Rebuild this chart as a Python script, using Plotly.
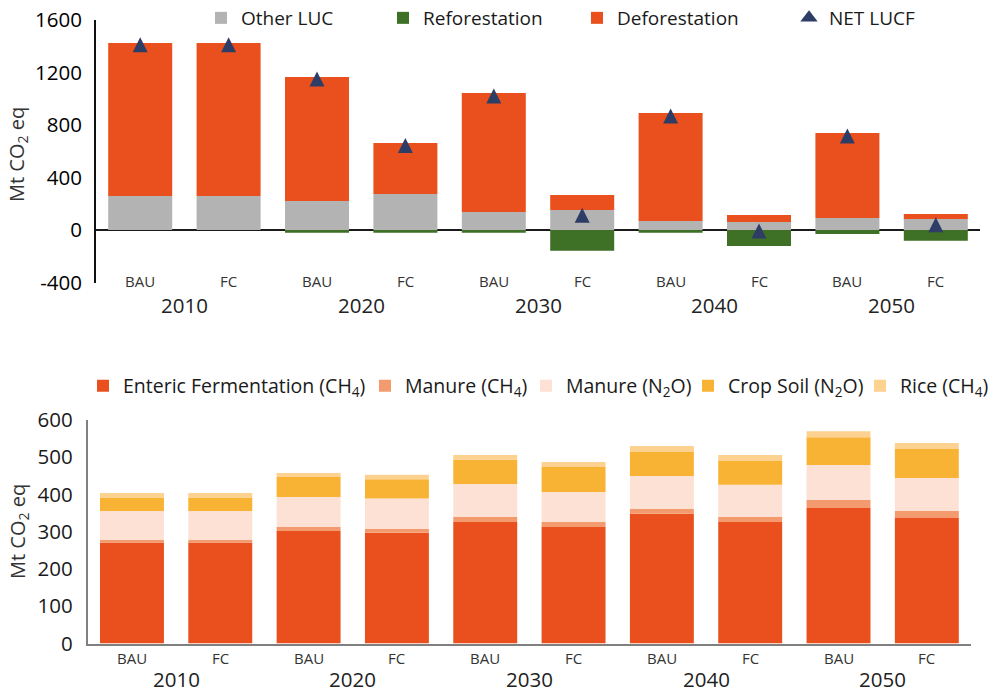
import plotly.graph_objects as go

W, H = 1001, 695

# ---------------- data ----------------
years = ["2010", "2020", "2030", "2040", "2050"]
scenarios = ["BAU", "FC", "BAU", "FC", "BAU", "FC", "BAU", "FC", "BAU", "FC"]

# Top chart: LUCF emissions (Mt CO2 eq)
other_luc = [259, 259, 221, 274, 137, 152, 69, 61, 91, 84]
reforestation = [0, 0, -20, -20, -20, -158, -20, -122, -30, -81]
deforestation = [1166, 1166, 945, 389, 907, 115, 822, 53, 648, 38]
net_lucf = [1412, 1412, 1150, 644, 1021, 112, 868, -8, 716, 40]

# Bottom chart: agriculture emissions (Mt CO2 eq)
enteric = [271, 271, 302, 297, 326, 313, 348, 326, 364, 337]
manure_ch4 = [7, 7, 11, 11, 14, 13, 13, 14, 21, 19]
manure_n2o = [78, 78, 80, 81, 88, 81, 89, 86, 94, 88]
crop_soil = [36, 36, 54, 52, 65, 67, 64, 64, 75, 78]
rice = [12, 12, 11, 12, 13, 13, 16, 16, 16, 16]

top_ticks = [-400, 0, 400, 800, 1200, 1600]
bottom_ticks = [0, 100, 200, 300, 400, 500, 600]

# ---------------- styling ----------------
FONT = "Open Sans"
C_DEF = "#E9501E"
C_OTHER = "#B3B3B3"
C_REF = "#3E7126"
C_NET = "#2E3D66"
C_ENT = "#E9501E"
C_MCH4 = "#F39B6E"
C_MN2O = "#FDE1D4"
C_CROP = "#F8B234"
C_RICE = "#FDD18F"

idx = list(range(len(scenarios)))


def px_x(p):
    return p / W


def px_y(p):
    return 1 - p / H


fig = go.Figure()

# top traces
top_series = [
    ("Other LUC", other_luc, C_OTHER, "legend"),
    ("Reforestation", reforestation, C_REF, "legend2"),
    ("Deforestation", deforestation, C_DEF, "legend3"),
]
for name, vals, col, lg in top_series:
    fig.add_trace(go.Bar(x=idx, y=vals, name=name, marker=dict(color=col, line=dict(width=0)),
                         xaxis="x", yaxis="y", legend=lg))
# centred, equilateral-ish triangles for NET LUCF
fig.add_trace(go.Scatter(x=idx, y=net_lucf, name="NET LUCF", mode="markers",
                         marker=dict(symbol="arrow-down", angle=180, standoff=7.5, size=15, color=C_NET,
                                     line=dict(width=0)),
                         xaxis="x", yaxis="y", showlegend=False))
# legend entry for NET LUCF
fig.add_trace(go.Scatter(x=[None], y=[None], name="NET LUCF", mode="markers",
                         marker=dict(symbol="triangle-up", size=15, color=C_NET, line=dict(width=0)),
                         xaxis="x", yaxis="y", legend="legend4"))

# bottom traces
bottom_series = [
    ("Enteric Fermentation (CH<sub>4</sub>)", enteric, C_ENT, "legend5"),
    ("Manure (CH<sub>4</sub>)", manure_ch4, C_MCH4, "legend6"),
    ("Manure (N<sub>2</sub>O)", manure_n2o, C_MN2O, "legend7"),
    ("Crop Soil (N<sub>2</sub>O)", crop_soil, C_CROP, "legend8"),
    ("Rice (CH<sub>4</sub>)", rice, C_RICE, "legend9"),
]
for name, vals, col, lg in bottom_series:
    fig.add_trace(go.Bar(x=idx, y=vals, name=name, marker=dict(color=col, line=dict(width=0)),
                         xaxis="x2", yaxis="y2", legend=lg))

# legends positioned individually (text start px)
top_leg_font = dict(family=FONT, size=19, color="#1a1a1a")
bot_leg_font = dict(family=FONT, size=19.5, color="#1a1a1a")
top_leg_y = px_y(18)
bot_leg_y = px_y(386)
legend_pos = {
    "legend": (241, top_leg_y), "legend2": (423, top_leg_y), "legend3": (617, top_leg_y),
    "legend4": (829, top_leg_y),
    "legend5": (123, bot_leg_y), "legend6": (405, bot_leg_y), "legend7": (566, bot_leg_y),
    "legend8": (728, bot_leg_y), "legend9": (900, bot_leg_y),
}
legends = {}
for key, (tx, ty) in legend_pos.items():
    f = top_leg_font if ty == top_leg_y else bot_leg_font
    legends[key] = dict(x=px_x(tx - 40), y=ty, xanchor="left", yanchor="middle",
                        orientation="h", font=f, bgcolor="rgba(0,0,0,0)",
                        borderwidth=0, tracegroupgap=0)

annotations = []
# scenario / year labels
for i, s in enumerate(scenarios):
    annotations.append(dict(x=i, xref="x", y=px_y(280.7), yref="paper", text=s, showarrow=False,
                            yanchor="middle", font=dict(family=FONT, size=15, color="#333333")))
    annotations.append(dict(x=i, xref="x2", y=px_y(658), yref="paper", text=s, showarrow=False,
                            yanchor="middle", font=dict(family=FONT, size=15, color="#333333")))
for j, yr in enumerate(years):
    annotations.append(dict(x=2 * j + 0.5, xref="x", y=px_y(305), yref="paper", text=yr,
                            showarrow=False, yanchor="middle",
                            font=dict(family=FONT, size=20.5, color="#222222")))
    annotations.append(dict(x=2 * j + 0.5, xref="x2", y=0, yref="paper", text=yr,
                            showarrow=False, yanchor="bottom",
                            font=dict(family=FONT, size=20.5, color="#222222")))
# y titles
annotations.append(dict(x=px_x(17.5), xref="paper", y=px_y(154.5), yref="paper",
                        text="Mt CO<sub>2</sub> eq", textangle=-90, showarrow=False,
                        xanchor="center", yanchor="middle",
                        font=dict(family=FONT, size=20, color="#333333")))
annotations.append(dict(x=px_x(18), xref="paper", y=px_y(532), yref="paper",
                        text="Mt CO<sub>2</sub> eq", textangle=-90, showarrow=False,
                        xanchor="center", yanchor="middle",
                        font=dict(family=FONT, size=20, color="#333333")))

fig.update_layout(
    width=W, height=H,
    margin=dict(l=0, r=0, t=0, b=0, autoexpand=False),
    paper_bgcolor="white", plot_bgcolor="white",
    barmode="relative", bargap=0.276,
    font=dict(family=FONT, size=18, color="#1a1a1a"),
    showlegend=True,
    annotations=annotations,
    xaxis=dict(domain=[px_x(96), px_x(980)], range=[-0.5, 9.5], anchor="y",
               showticklabels=False, showgrid=False, zeroline=False, showline=False, ticks=""),
    yaxis=dict(domain=[px_y(282.5), px_y(20)], range=[-400, 1600], anchor="x",
               tickvals=top_ticks, ticktext=[str(v) for v in top_ticks],
               showgrid=False, showline=True, linecolor="#111111", linewidth=2,
               zeroline=True, zerolinecolor="#1a1a1a", zerolinewidth=2,
               ticks="outside", ticklen=8, tickcolor="rgba(0,0,0,0)",
               tickfont=dict(family=FONT, size=20.5, color="#000000")),
    xaxis2=dict(domain=[px_x(87.8), px_x(971)], range=[-0.5, 9.5], anchor="y2",
                showticklabels=False, showgrid=False, zeroline=False,
                showline=True, linecolor="#808080", linewidth=2, ticks=""),
    yaxis2=dict(domain=[px_y(643.5), px_y(420)], range=[0, 600], anchor="x2",
                tickvals=bottom_ticks, ticktext=[str(v) for v in bottom_ticks],
                showgrid=False, showline=True, linecolor="#808080", linewidth=2,
                zeroline=False, ticks="outside", ticklen=9, tickcolor="rgba(0,0,0,0)",
                tickfont=dict(family=FONT, size=20.5, color="#1a1a1a")),
    **legends,
)

fig.write_html("out.html", config={"displayModeBar": False},
               post_script="document.body.style.margin='0';")
